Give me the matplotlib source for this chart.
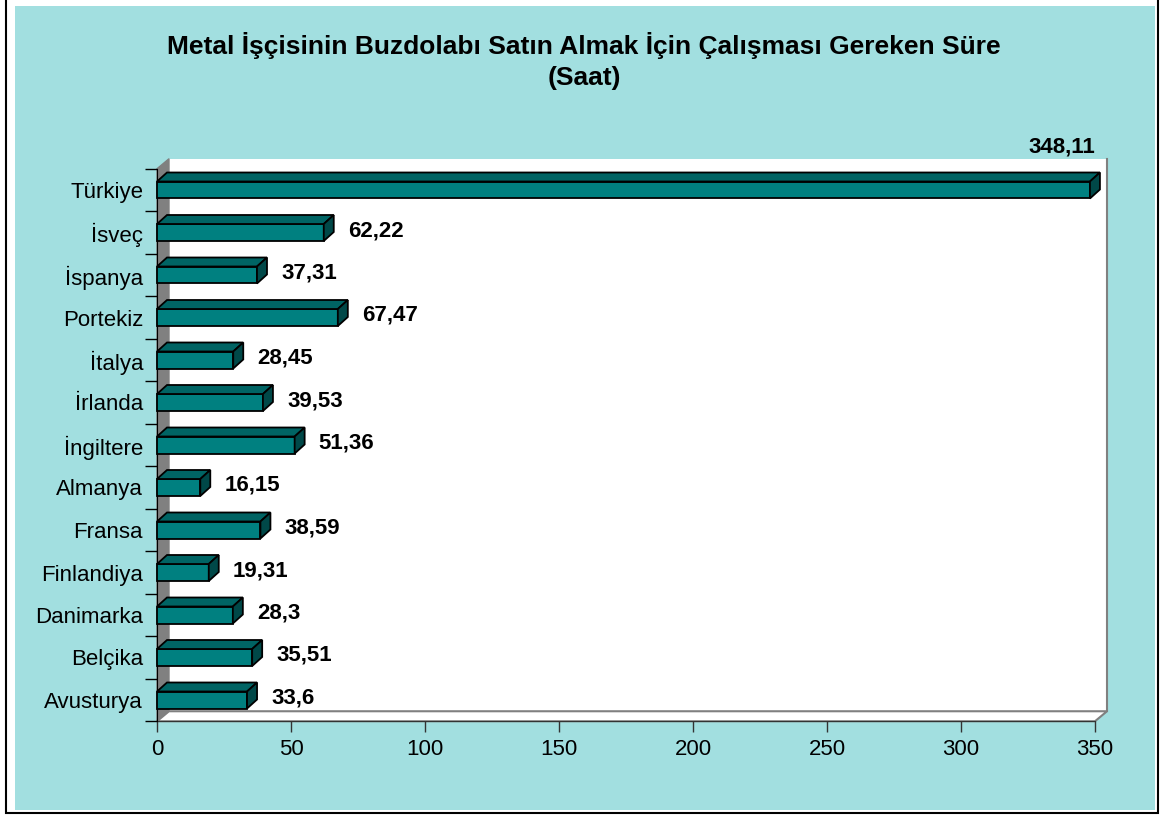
import numpy as np
import matplotlib
matplotlib.use("Agg")
import matplotlib.pyplot as plt
from matplotlib.patches import Polygon, Rectangle

plt.rcParams['font.family'] = ['Liberation Sans', 'DejaVu Sans']

# data (bottom to top)
countries = ['Avusturya', 'Belçika', 'Danimarka', 'Finlandiya', 'Fransa', 'Almanya',
             'İngiltere', 'İrlanda', 'İtalya', 'Portekiz', 'İspanya', 'İsveç', 'Türkiye']
hours = [33.6, 35.51, 28.3, 19.31, 38.59, 16.15, 51.36, 39.53, 28.45, 67.47, 37.31, 62.22, 348.11]
value_labels = ['33,6', '35,51', '28,3', '19,31', '38,59', '16,15', '51,36', '39,53',
                '28,45', '67,47', '37,31', '62,22', '348,11']
xticks = [0, 50, 100, 150, 200, 250, 300, 350]

W, H = 1168, 815
fig = plt.figure(figsize=(W / 100, H / 100), dpi=100)

# outer frame and cyan chart area
def fx(px):
    return px / W
def fy(py):
    return 1 - py / H
fig.patches.append(Rectangle((fx(6), fy(813)), fx(1158) - fx(6), fy(0) - fy(813) + 0.01,
                             transform=fig.transFigure, facecolor='white',
                             edgecolor='black', lw=1.5, zorder=-20))
fig.patches.append(Rectangle((fx(15), fy(810)), fx(1155) - fx(15), fy(6) - fy(810),
                             transform=fig.transFigure, facecolor='#A2DFE0',
                             edgecolor='none', zorder=-19))

# axes placed so x=0 -> px 157, x=350 -> px 1095
left, right, top, bottom = 157, 1095, 168.75, 721.25
ax = fig.add_axes([fx(left), fy(bottom), fx(right) - fx(left), fy(top) - fy(bottom)])
ax.set_xlim(0, 350)
ax.set_ylim(-0.5, len(countries) - 0.5)
ax.patch.set_visible(False)

ux = 350 / (right - left)          # data units per px (x)
uy = len(countries) / (bottom - top)  # data units per px (y)

# walls
wdx, wdy = 12 * ux, 10 * uy
y0, y1 = -0.5, len(countries) - 0.5
ax.add_patch(Polygon([(wdx, y0 + wdy), (350 + wdx, y0 + wdy), (350 + wdx, y1 + wdy), (wdx, y1 + wdy)],
                     closed=True, facecolor='white', edgecolor='none', zorder=0, clip_on=False))
ax.plot([350 + wdx, 350 + wdx], [y0 + wdy, y1 + wdy], color='#808080', lw=1.5, clip_on=False, zorder=1)
ax.add_patch(Polygon([(0, y0), (0, y1), (wdx, y1 + wdy), (wdx, y0 + wdy)],
                     closed=True, facecolor='#808080', edgecolor='#808080', lw=1, zorder=1, clip_on=False))
ax.add_patch(Polygon([(0, y0), (350, y0), (350 + wdx, y0 + wdy), (wdx, y0 + wdy)],
                     closed=True, facecolor='white', edgecolor='#808080', lw=1.5, zorder=1, clip_on=False))

# 3d bars
bdx, bdy = 10 * ux, 9 * uy
h = 0.2
for i, v in enumerate(hours):
    front = Polygon([(0, i - h), (v, i - h), (v, i + h), (0, i + h)], closed=True,
                    facecolor='#008080', edgecolor='black', lw=1.3, zorder=3, clip_on=False)
    topf = Polygon([(0, i + h), (v, i + h), (v + bdx, i + h + bdy), (bdx, i + h + bdy)], closed=True,
                   facecolor='#006464', edgecolor='black', lw=1.3, zorder=3, clip_on=False)
    side = Polygon([(v, i - h), (v + bdx, i - h + bdy), (v + bdx, i + h + bdy), (v, i + h)], closed=True,
                   facecolor='#004848', edgecolor='black', lw=1.3, zorder=3, clip_on=False)
    for p in (front, topf, side):
        ax.add_patch(p)
    if v > 300:
        ax.text(337.5, i + 1.0, value_labels[i], ha='center', va='center',
                fontsize=16, fontweight='bold', clip_on=False)
    else:
        ax.text(v + 24 * ux, i + 2 * uy, value_labels[i], ha='left', va='center',
                fontsize=16, fontweight='bold')

# axes styling
for s in ('top', 'right'):
    ax.spines[s].set_visible(False)
ax.spines['left'].set_color('black')
ax.spines['bottom'].set_color('#333333')
ax.spines['bottom'].set_zorder(2)
ax.set_xticks(xticks)
ax.set_xticklabels([str(t) for t in xticks])
ax.set_yticks(np.arange(len(countries) + 1) - 0.5)
ax.set_yticklabels([])
ax.set_yticks(np.arange(len(countries)), minor=True)
ax.set_yticklabels(countries, minor=True)
ax.tick_params(axis='x', direction='out', length=8, width=1, color='#333333', pad=5, labelsize=16)
ax.tick_params(axis='y', which='major', direction='out', length=9, width=1, color='black')
ax.tick_params(axis='y', which='minor', length=0, pad=10, labelsize=16)

fig.text(fx(584), fy(61), 'Metal İşçisinin Buzdolabı Satın Almak İçin Çalışması Gereken Süre\n(Saat)',
         ha='center', va='center', fontsize=19, fontweight='bold', linespacing=1.35)

fig.savefig('out.png', dpi=100)
